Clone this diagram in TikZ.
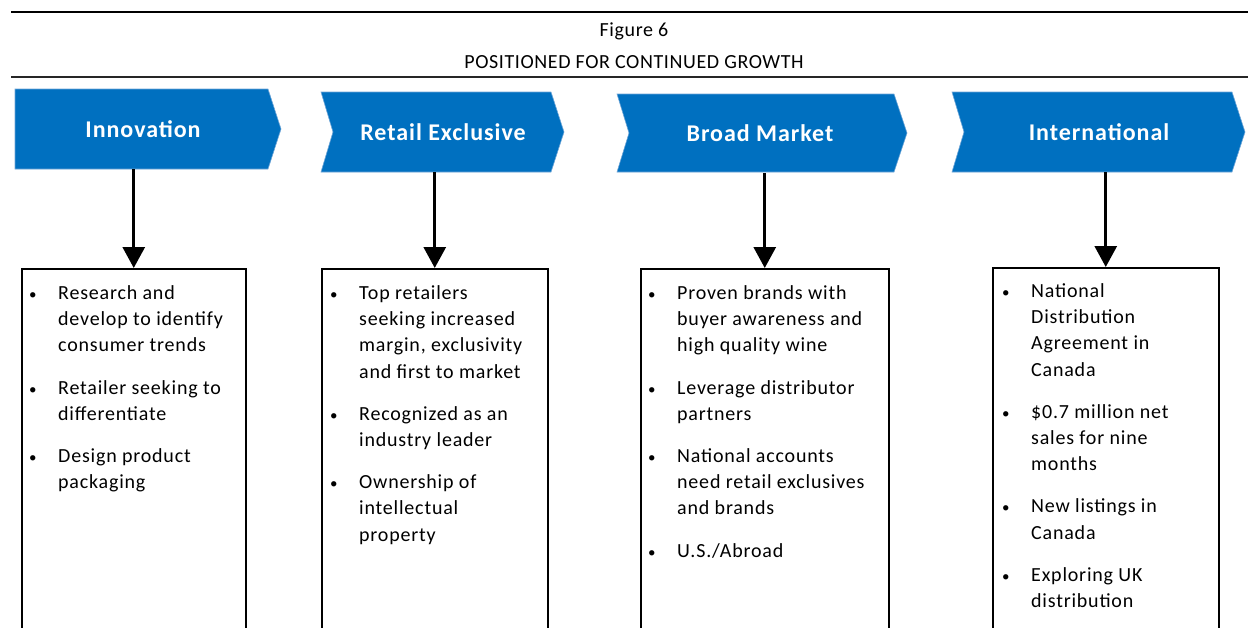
\documentclass[tikz,border=0pt]{standalone}
\usepackage{fontspec}
\setmainfont{Carlito}
\definecolor{chevblue}{RGB}{0,112,192}
\definecolor{chevedge}{RGB}{110,165,215}
\usetikzlibrary{arrows.meta,positioning}
\newcommand{\bul}{{\fontsize{15}{15}\selectfont\textbullet}}

\begin{document}
\begin{tikzpicture}[x=1pt,y=-1pt,
    chev/.style={fill=chevblue,draw=chevedge,line width=0.6pt},
    chevlabel/.style={text=white,
      font=\fontsize{24}{28}\selectfont\bfseries\addfontfeature{LetterSpace=4},
      minimum height=80pt,inner sep=0pt},
    panel/.style={draw=black,line width=1.5pt,anchor=north west,
      minimum height=380pt,inner sep=0pt},
    items/.style={anchor=north west,inner sep=0pt,
      font=\fontsize{20}{26.2}\selectfont\addfontfeature{LetterSpace=4}},
    heading/.style={font=\fontsize{20}{24}\selectfont\addfontfeature{LetterSpace=3}},
    arr/.style={line width=3pt,-{Triangle[length=21pt,width=22pt]}}]
  \path[use as bounding box,clip] (0,0) rectangle (1248,627);

  % rules and caption
  \draw[line width=2pt] (11,12) -- (1248,12);
  \draw[line width=2.6pt,black!85] (11,77) -- (1248,77);
  \node[heading] (fig) at (634,31) {Figure 6};
  \node[heading] (caption) at (634,62) {POSITIONED FOR CONTINUED GROWTH};

  % chevrons
  \fill[chev] (15,89) -- (268,89) -- (281,129) -- (268,169) -- (15,169) -- cycle;
  \fill[chev] (321,92) -- (551,92) -- (564,132) -- (551,172) -- (321,172) -- (333,132) -- cycle;
  \fill[chev] (617,94) -- (894,94) -- (907,133) -- (894,172) -- (617,172) -- (629,133) -- cycle;
  \fill[chev] (952,92) -- (1232,92) -- (1245,132) -- (1232,172) -- (952,172) -- (964,132) -- cycle;
  \node[chevlabel] (inno) at (143,129) {Innovation};
  \node[chevlabel] (retail) at (443,132) {Retail Exclusive};
  \node[chevlabel] (broad) at (760,133) {Broad Market};
  \node[chevlabel] (intl) at (1099,132) {International};

  % boxes
  \node[panel,minimum width=224pt] (b1) at (21,268) {};
  \node[panel,minimum width=226pt] (b2) at (321,268) {};
  \node[panel,minimum width=248pt] (b3) at (640,268) {};
  \node[panel,minimum width=226pt] (b4) at (992,267) {};

  \draw[arr] (inno.south -| b1.north) -- (b1.north);
  \draw[arr] (retail.south -| b2.north) -- (b2.north);
  \draw[arr] (broad.south -| b3.north) -- (b3.north);
  \draw[arr] (intl.south -| b4.north) -- (b4.north);

  % bullet lists
  \node[items] (t1) at (29,281) {\begin{tabular}{@{}p{29pt}@{}l@{}}
    \bul & Research and\\ & develop to identify\\ & consumer trends\\[16pt]
    \bul & Retailer seeking to\\ & differentiate\\[16pt]
    \bul & Design product\\ & packaging
  \end{tabular}};
  \node[items] (t2) at (330,281) {\begin{tabular}{@{}p{29pt}@{}l@{}}
    \bul & Top retailers\\ & seeking increased\\ & margin, exclusivity\\ & and first to market\\[16pt]
    \bul & Recognized as an\\ & industry leader\\[16pt]
    \bul & Ownership of\\ & intellectual\\ & property
  \end{tabular}};
  \node[items] (t3) at (648,281) {\begin{tabular}{@{}p{29pt}@{}l@{}}
    \bul & Proven brands with\\ & buyer awareness and\\ & high quality wine\\[16pt]
    \bul & Leverage distributor\\ & partners\\[16pt]
    \bul & National accounts\\ & need retail exclusives\\ & and brands\\[16pt]
    \bul & U.S./Abroad
  \end{tabular}};
  \node[items] (t4) at (1002,279) {\begin{tabular}{@{}p{29pt}@{}l@{}}
    \bul & National\\ & Distribution\\ & Agreement in\\ & Canada\\[16pt]
    \bul & \$0.7 million net\\ & sales for nine\\ & months\\[16pt]
    \bul & New listings in\\ & Canada\\[16pt]
    \bul & Exploring UK\\ & distribution
  \end{tabular}};
\end{tikzpicture}
\end{document}
